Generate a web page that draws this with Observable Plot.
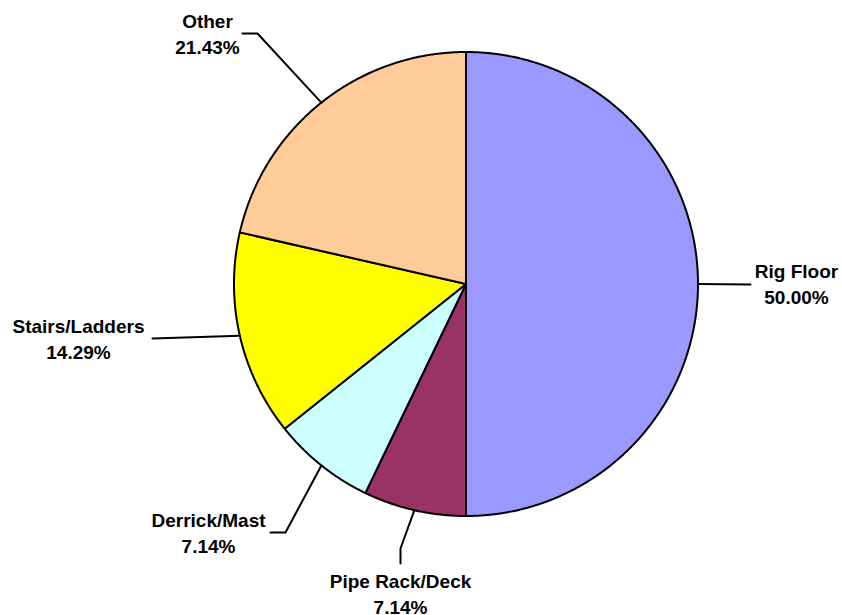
<!DOCTYPE html>
<html><head><meta charset="utf-8">
<script src="https://cdn.jsdelivr.net/npm/d3@7"></script>
<script src="https://cdn.jsdelivr.net/npm/@observablehq/plot@0.6"></script>
<style>body{margin:0;background:#fff}</style>
</head><body><div id="chart"></div>
<script>
// ---- data ----
const categories = ["Rig Floor", "Pipe Rack/Deck", "Derrick/Mast", "Stairs/Ladders", "Other"];
const percents = [50.00, 7.14, 7.14, 14.29, 21.43];
const colors = ["#9999FF", "#993366", "#CCFFFF", "#FFFF00", "#FFCC99"];

// ---- layout (pixels) ----
const W = 842, H = 615, CX = 465.5, CY = 283.5, R = 232;
const labelLayout = {
  "Rig Floor":      {leader: [[750, 284]],             text: [796, 259]},
  "Pipe Rack/Deck": {leader: [[400, 548], [400, 563]], text: [400, 569]},
  "Derrick/Mast":   {leader: [[285, 532], [270, 532]], text: [208, 508]},
  "Stairs/Ladders": {leader: [[152, 338]],             text: [78, 314]},
  "Other":          {leader: [[257, 33], [242, 33]],   text: [207, 9]}
};

const arcs = d3.pie().sort(null).value(d => d)(percents);
const pt = a => [CX + R * Math.sin(a), CY - R * Math.cos(a)];

const slicePts = [];
const leaderPts = [];
const labels = [];
arcs.forEach((a, i) => {
  const cat = categories[i];
  slicePts.push({cat, x: CX, y: CY});
  const n = Math.max(2, Math.ceil((a.endAngle - a.startAngle) / 0.005));
  for (let k = 0; k <= n; k++) {
    const [x, y] = pt(a.startAngle + (a.endAngle - a.startAngle) * k / n);
    slicePts.push({cat, x, y});
  }
  slicePts.push({cat, x: CX, y: CY});
  const mid = (a.startAngle + a.endAngle) / 2;
  const [ex, ey] = pt(mid);
  leaderPts.push({cat, x: ex, y: ey});
  labelLayout[cat].leader.forEach(([x, y]) => leaderPts.push({cat, x, y}));
  const [tx, ty] = labelLayout[cat].text;
  labels.push({cat, x: tx, y: ty, text: `${cat}\n${percents[i].toFixed(2)}%`});
});

const chart = Plot.plot({
  width: W, height: H, margin: 0,
  style: {background: "#fff"},
  x: {domain: [0, W], range: [0, W], axis: null},
  y: {domain: [0, H], range: [0, H], axis: null},
  color: {domain: categories, range: colors},
  marks: [
    Plot.line(slicePts, {x: "x", y: "y", z: "cat", fill: "cat", stroke: "black", strokeWidth: 2, strokeLinejoin: "round"}),
    Plot.line(leaderPts, {x: "x", y: "y", z: "cat", stroke: "black", strokeWidth: 2}),
    Plot.text(labels, {x: "x", y: "y", text: "text", lineAnchor: "top", textAnchor: "middle",
      fontSize: 19, fontWeight: "bold", lineHeight: 26 / 19, fill: "black",
      fontFamily: "'Liberation Sans', Arial, sans-serif"})
  ]
});
document.getElementById("chart").appendChild(chart);
</script>
</body></html>
